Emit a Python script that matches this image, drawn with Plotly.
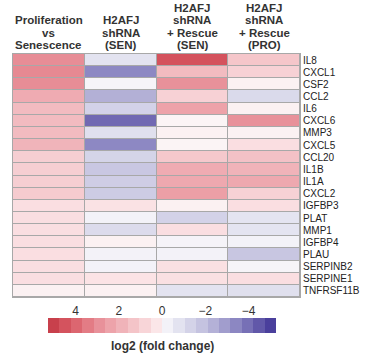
import numpy as np
import plotly.graph_objects as go

# ---------------- data ----------------
genes = ["IL8", "CXCL1", "CSF2", "CCL2", "IL6", "CXCL6", "MMP3", "CXCL5", "CCL20",
         "IL1B", "IL1A", "CXCL2", "IGFBP3", "PLAT", "MMP1", "IGFBP4", "PLAU",
         "SERPINB2", "SERPINE1", "TNFRSF11B"]
conditions = ["Proliferation vs Senescence", "H2AFJ shRNA (SEN)",
              "H2AFJ shRNA + Rescue (SEN)", "H2AFJ shRNA + Rescue (PRO)"]
header_lines = [["Proliferation", "vs", "Senescence"],
                ["H2AFJ", "shRNA", "(SEN)"],
                ["H2AFJ", "shRNA", "+ Rescue", "(SEN)"],
                ["H2AFJ", "shRNA", "+ Rescue", "(PRO)"]]
prolif_vs_sen = [3.0, 3.1, 3.0, 2.1, 1.6, 1.6, 1.6, 1.8, 1.0, 1.0,
                 1.0, 1.1, 0.5, 0.5, 0.5, 0.5, 0.5, 0.5, 0.5, 0.1]
shrna_sen = [-0.8, -3.4, -0.15, -2.4, -1.35, -4.1, -0.9, -3.4, -1.3, -1.7,
             -1.5, -1.55, 0.4, -0.25, -1.05, 0.1, -0.25, -0.25, 0.35, 0.1]
rescue_sen = [4.5, 1.6, 2.9, 0.9, 2.4, 0.05, 0.1, 0.05, 1.2, 2.1,
              2.2, 2.5, 0.1, -1.35, 0.5, -0.2, -0.25, 0.45, 0.45, -0.8]
rescue_pro = [1.25, 0.9, 0.1, -1.1, 0.1, 2.9, 0.1, 0.5, 1.4, 1.85,
              2.2, 0.9, 0.5, -0.75, -0.75, -0.25, -1.75, -0.15, 0.5, -0.9]
scale_ticks = [4, 2, 0, -2, -4]
zmin, zmax = -5.27, 5.27
# palette of the 20 legend blocks, low (blue) -> high (red)
palette = ["#4a3f9c", "#6158a9", "#7770b6", "#8c87c2", "#a19dcd", "#b4b1d7",
           "#c5c3e0", "#d4d3e8", "#e3e3f0", "#f3f2f8", "#fbe6e8", "#f8d5d8",
           "#f4c4c8", "#f0b3b9", "#eda3aa", "#e8919a", "#e37c85", "#dc6670",
           "#d4535e", "#c8404c"]
mid_color = "#fbf7f8"

# ---------------- build ----------------
n = len(palette)
# stepped scale for the legend strip
stepped = []
for i, c in enumerate(palette):
    stepped.append([i / n, c])
    stepped.append([(i + 1) / n, c])
# smooth scale for the cells, anchored at the block centres
smooth = [[0.0, palette[0]]]
for i, c in enumerate(palette):
    if i == n // 2:
        smooth.append([0.5, mid_color])
    smooth.append([(i + 0.5) / n, c])
smooth.append([1.0, palette[-1]])

z = np.array([prolif_vs_sen, shrna_sen, rescue_sen, rescue_pro]).T
edges = np.linspace(zmin, zmax, n + 1)
centers = (edges[:-1] + edges[1:]) / 2

FONT = "Arial, Liberation Sans, sans-serif"
fig = go.Figure()
fig.add_trace(go.Heatmap(
    z=z, x=conditions, y=genes, colorscale=smooth, zmin=zmin, zmax=zmax,
    showscale=False, xgap=1, ygap=1, xaxis="x", yaxis="y", hoverinfo="skip"))
fig.add_trace(go.Heatmap(
    z=[list(centers)], x=list(centers), y=["scale"], colorscale=stepped,
    zmin=zmin, zmax=zmax, showscale=False, xaxis="x2", yaxis="y2",
    hoverinfo="skip"))

annotations = []
for cond, lines in zip(conditions, header_lines):
    nl = len(lines)
    for k, txt in enumerate(lines):
        annotations.append(dict(
            text=f"<b>{txt}</b>", xref="x", x=cond, yref="paper", y=1,
            yanchor="middle", yshift=9 + (nl - 1 - k) * 12.3, showarrow=False,
            borderpad=0, font=dict(size=11.5, color="#333")))
annotations.append(dict(text="<b>log2 (fold change)</b>", xref="x2", x=0,
                        yref="paper", y=0, yanchor="top", yshift=-4,
                        showarrow=False, font=dict(size=12, color="#333")))

W, H = 375, 356
L, R, T, B = 13, 75, 54, 23
ph = H - T - B
fig.update_layout(
    width=W, height=H, margin=dict(l=L, r=R, t=T, b=B),
    paper_bgcolor="white", plot_bgcolor="#a8a8a8",
    font=dict(family=FONT, color="#222"),
    xaxis=dict(domain=[0, 1], side="top", showgrid=False, zeroline=False,
               ticks="", showticklabels=False, automargin=False,
               showline=True, mirror=True, linecolor="#a8a8a8", linewidth=1,
               anchor="y"),
    yaxis=dict(domain=[(H - B - 297) / ph, 1], side="right", autorange="reversed",
               showgrid=False, zeroline=False, ticks="", automargin=False,
               tickmode="array", tickvals=genes, ticktext=genes,
               tickfont=dict(size=10, color="#222"),
               showline=True, mirror=True, linecolor="#a8a8a8", linewidth=1,
               anchor="x"),
    xaxis2=dict(domain=[(48 - L) / (W - L - R), (276 - L) / (W - L - R)],
                range=[edges[-1], edges[0]], side="top", showgrid=False,
                zeroline=False, ticks="", tickvals=scale_ticks, automargin=False,
                tickfont=dict(size=12, color="#333"), anchor="y2"),
    yaxis2=dict(domain=[0, 15 / ph], showticklabels=False, showgrid=False,
                zeroline=False, ticks="", anchor="x2", automargin=False),
    annotations=annotations,
)
fig.write_html("out.html", config={"displayModeBar": False},
               post_script="document.body.style.margin='0';document.body.style.overflow='hidden';")
